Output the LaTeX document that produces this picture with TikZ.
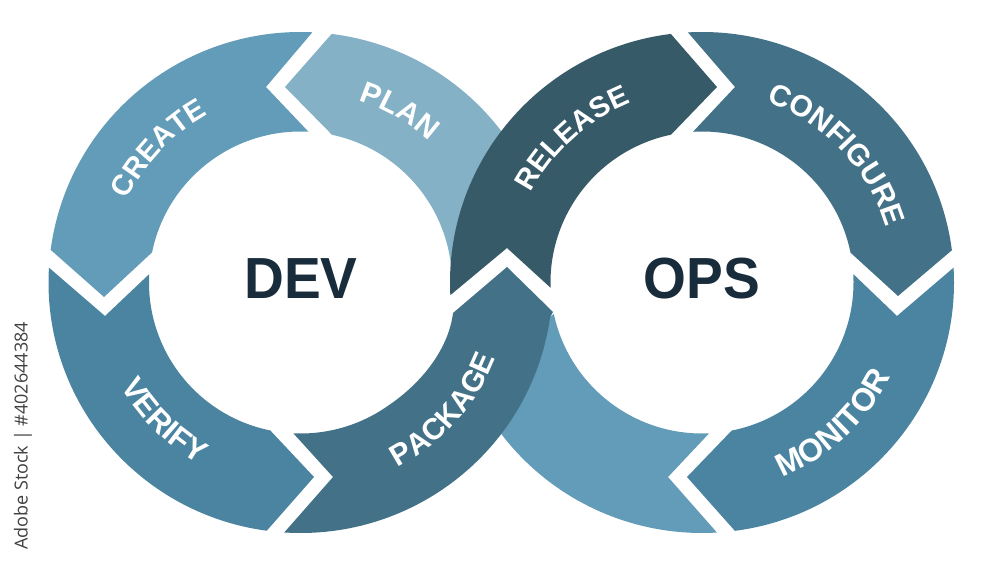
\documentclass[tikz,border=0pt]{standalone}
\usepackage{fontspec}
\setmainfont{Liberation Sans}
\newfontfamily\titlefont[FakeStretch=0.95]{Liberation Sans}
\newfontfamily\stockfont{Open Sans}
\usetikzlibrary{decorations.text}

\definecolor{planblue}{HTML}{84B1C6}
\definecolor{createblue}{HTML}{629CB8}
\definecolor{verifyblue}{HTML}{4A84A0}
\definecolor{packageblue}{HTML}{437288}
\definecolor{releaseblue}{HTML}{375A68}
\definecolor{titleblue}{HTML}{182C3B}

\tikzset{
  lc/.style={shift={(300.5,283.5)}},
  rc/.style={shift={(702,283.5)}},
  bigarc/.style={x radius=252,y radius=250.5},
  smallarc/.style={x radius=151.5,y radius=151},
  steptext/.style 2 args={decorate,decoration={text along path,text align=center,text={|\bfseries\fontsize{#1}{#1}\selectfont\color{white}|#2}}},
  title/.style={font=\titlefont\bfseries\fontsize{58}{58}\selectfont,text=titleblue,inner sep=0pt}
}

\begin{document}
\begin{tikzpicture}[x=1pt,y=1pt]

\path[use as bounding box] (0,0) rectangle (1000,566);

% hidden ends go first
\fill[planblue] (285,479) -- ([lc]82.9:252 and 250.5) arc[bigarc,start angle=82.9,end angle=33] -- (456,294) -- ([lc]3:151.5 and 151) arc[smallarc,start angle=3,end angle=78] -- cycle;
\fill[createblue] ([rc]213:252 and 250.5) arc[bigarc,start angle=213,end angle=273.4] -- (668,89) -- ([rc]272.7:151.5 and 151) arc[smallarc,start angle=272.7,end angle=192] -- (540,241) -- cycle;

% left circle
\fill[createblue] ([lc]172.5:252 and 250.5) arc[bigarc,start angle=172.5,end angle=87.3] -- (266,479) -- ([lc]87:151.5 and 151) arc[smallarc,start angle=87,end angle=168.5] -- (104,269) -- cycle;
\fill[verifyblue] ([lc]176.6:252 and 250.5) arc[bigarc,start angle=176.6,end angle=262.3] -- (314,89) -- ([lc]258.5:151.5 and 151) arc[smallarc,start angle=258.5,end angle=176.8] -- (105,250) -- cycle;
\fill[packageblue] ([lc]266.3:252 and 250.5) arc[bigarc,start angle=266.3,end angle=352] -- (553,254) -- (507,299) -- (453,253) .. controls (449,220) and (425,185) .. ([lc]305:151.5 and 151) arc[smallarc,start angle=305,end angle=267.3] -- (333,89) -- cycle;

% right circle
\fill[releaseblue] ([rc]182.9:252 and 250.5) arc[bigarc,start angle=182.9,end angle=97.1] -- (717,479) -- ([rc]101.8:151.5 and 151) arc[smallarc,start angle=101.8,end angle=182] -- (507,318) -- cycle;
\fill[packageblue] ([rc]93.2:252 and 250.5) arc[bigarc,start angle=93.2,end angle=7.4] -- (898,270) -- ([rc]11.4:151.5 and 151) arc[smallarc,start angle=11.4,end angle=93.4] -- (735,479) -- cycle;
\fill[verifyblue] ([rc]3.4:252 and 250.5) arc[bigarc,start angle=3.4,end angle=-82.5] -- (687,89) -- ([rc]-78.7:151.5 and 151) arc[smallarc,start angle=-78.7,end angle=3.2] -- (897,250) -- cycle;

% step labels
\path[steptext={29}{CREATE}] ([lc]176.7:192) arc[start angle=176.7,end angle=96.7,radius=192];
\path[steptext={30}{PLAN}] ([lc]100:191) arc[start angle=100,end angle=20,radius=191];
\path[steptext={31}{VERIFY}] ([lc]185.4:208) arc[start angle=185.4,end angle=265.4,radius=208];
\path[steptext={30}{PACKAGE}] ([lc]-81.7:209) arc[start angle=-81.7,end angle=-1.7,radius=209];
\path[steptext={29}{RELEASE}] ([rc]172:193) arc[start angle=172,end angle=92,radius=193];
\path[steptext={30}{CONFIGURE}] ([rc]93.5:192) arc[start angle=93.5,end angle=-6.5,radius=192];
\path[steptext={32}{MONITOR}] ([rc]-87:211) arc[start angle=-87,end angle=-7,radius=211];

% titles
\node[title] (dev) at (301,287.5) {DEV};
\node[title] (ops) at (702,287.5) {OPS};

\node[font=\stockfont\fontsize{18}{18}\selectfont,text=black!75,rotate=90,inner sep=0pt] (stock) at (23,130) {Adobe Stock | \#402644384};

\end{tikzpicture}
\end{document}
